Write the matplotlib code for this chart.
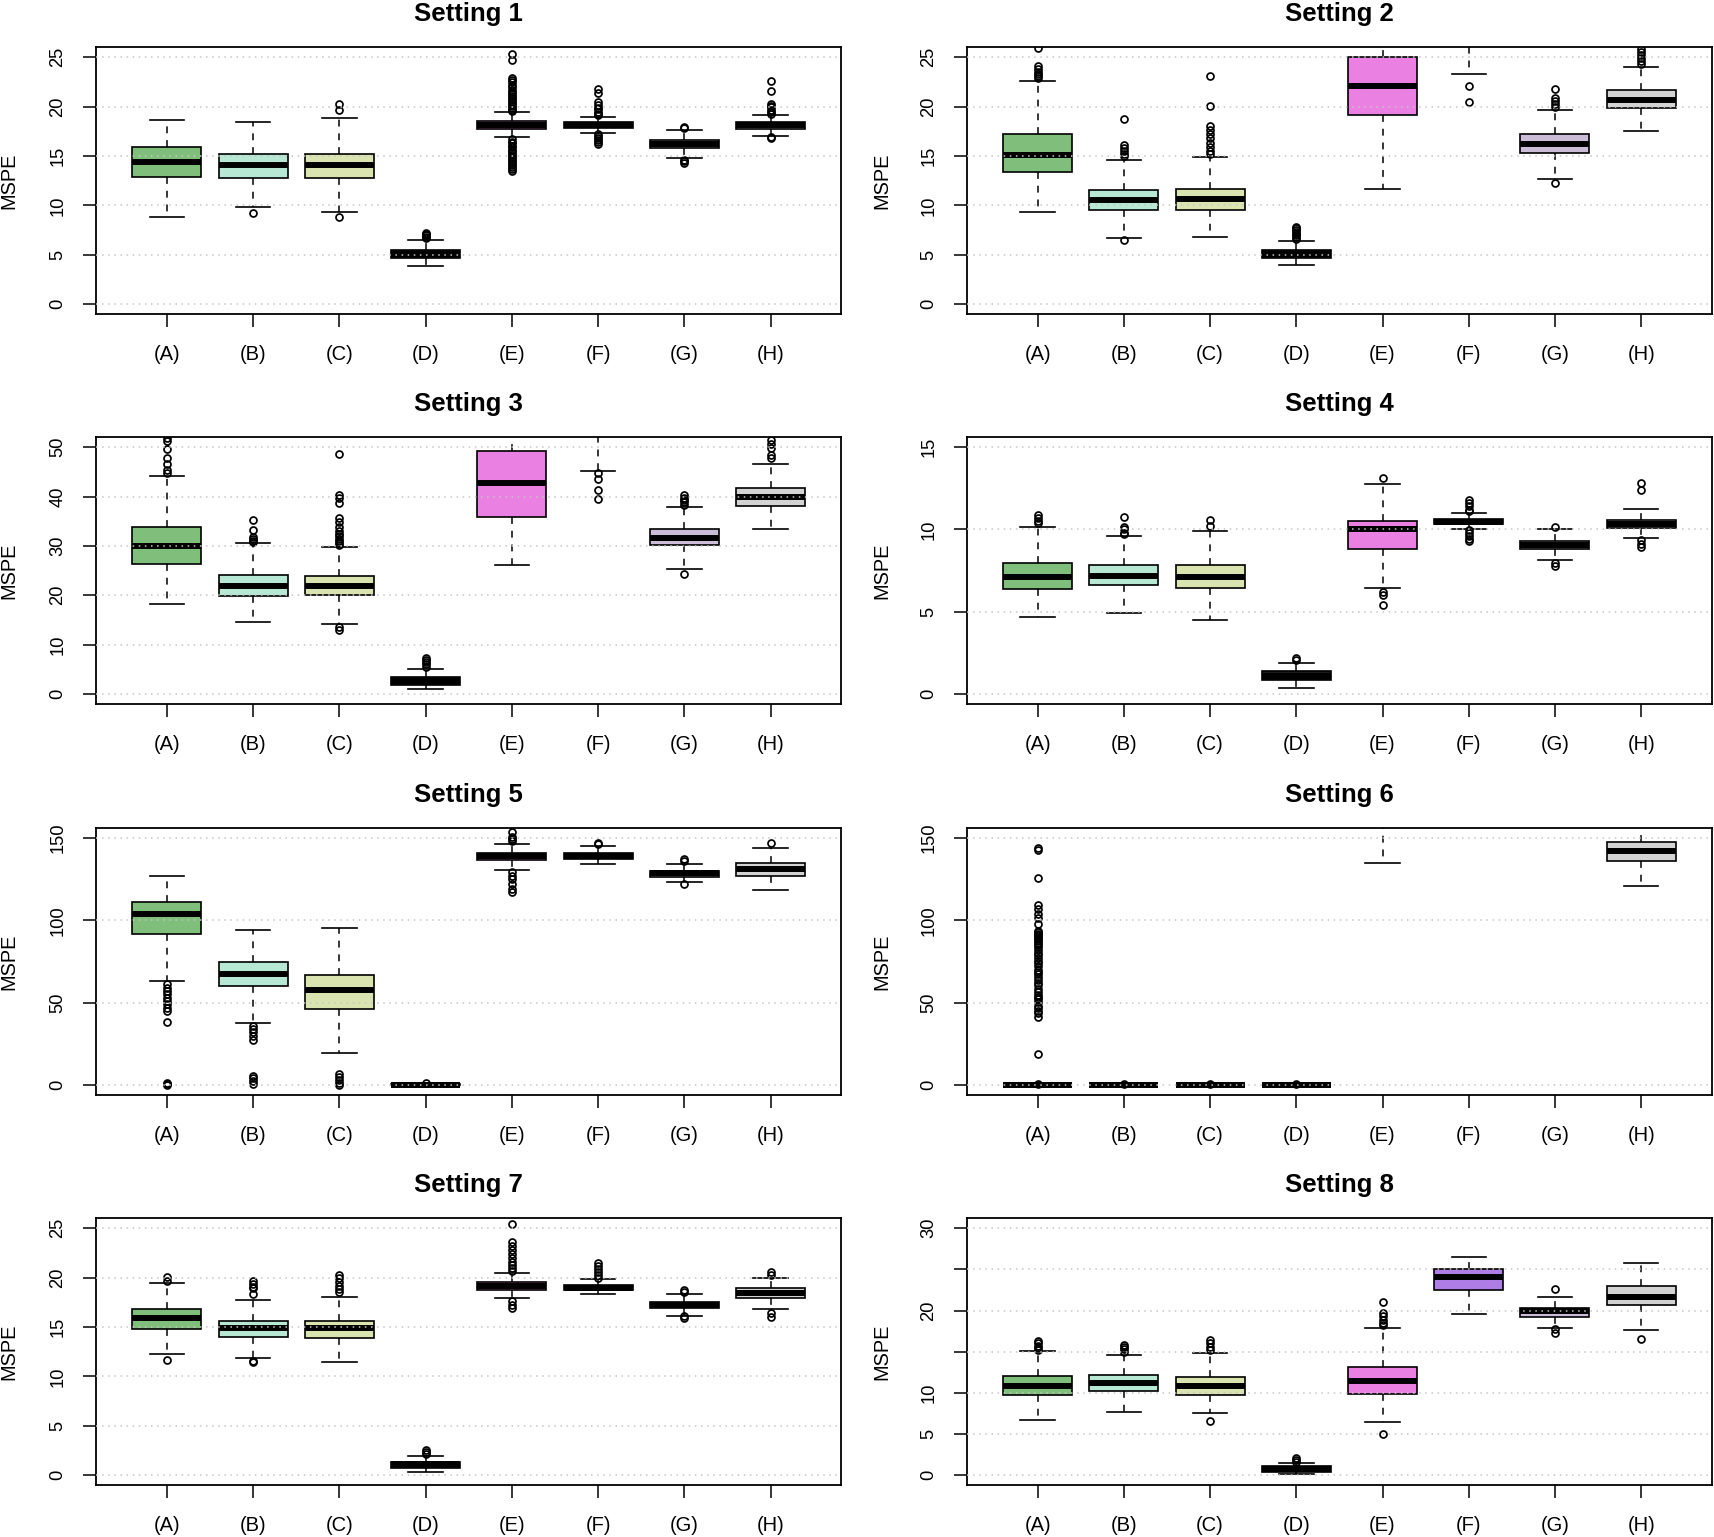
import matplotlib
matplotlib.use("Agg")
import matplotlib.pyplot as plt

plt.rcParams['font.family'] = ['Liberation Sans', 'DejaVu Sans']

# methods (A)-(H) and their box colours
LABELS = ["(A)", "(B)", "(C)", "(D)", "(E)", "(F)", "(G)", "(H)"]
COLORS = ["#7fbf7b", "#b6e8d4", "#d9e4b0", "#1a1a1a",
          "#ea80e2", "#ae7ee6", "#cbbcd8", "#d3d3d3"]

# --- box statistics: lower whisker, Q1, median, Q3, upper whisker, outliers
# Setting 1
S1_LO = [8.8, 9.8, 9.35, 3.86, 16.88, 17.32, 14.78, 17.05]
S1_Q1 = [12.92, 12.82, 12.75, 4.63, 17.76, 17.83, 15.76, 17.76]
S1_MED = [14.38, 14.04, 14.04, 5.04, 18.1, 18.1, 16.2, 18.1]
S1_Q3 = [15.87, 15.19, 15.22, 5.48, 18.5, 18.44, 16.6, 18.47]
S1_HI = [18.67, 18.47, 18.81, 6.53, 19.49, 18.98, 17.63, 19.18]
S1_OUT = [[], [9.2], [20.26, 19.7, 8.8],
          [6.65, 6.8, 6.95, 7.1, 7.2],
          [19.55, 19.7, 19.9, 20.05, 20.3, 20.45, 20.7, 20.9, 21.05, 21.3, 21.5, 21.7,
           21.95, 22.2, 22.45, 22.7, 22.85, 24.7, 25.3,
           16.7, 16.45, 16.3, 16.05, 15.9, 15.65, 15.5, 15.3, 15.05, 14.9, 14.7,
           14.45, 14.3, 14.05, 13.9, 13.7, 13.5],
          [19.1, 19.3, 19.5, 19.75, 19.9, 20.2, 20.45, 21.4, 21.8,
           17.2, 17.0, 16.85, 16.6, 16.4, 16.2],
          [17.8, 17.95, 14.6, 14.45, 14.25],
          [19.3, 19.5, 19.7, 19.95, 20.1, 20.3, 21.6, 22.6, 16.95, 16.8]]

# Setting 2
S2_LO = [9.34, 6.7, 6.83, 3.92, 11.7, 23.3, 12.69, 17.52]
S2_Q1 = [13.33, 9.54, 9.54, 4.7, 19.15, 27.5, 15.29, 19.86]
S2_MED = [15.12, 10.55, 10.66, 5.04, 22.12, 29.5, 16.24, 20.7]
S2_Q3 = [17.22, 11.6, 11.7, 5.48, 25.0, 31.5, 17.19, 21.65]
S2_HI = [22.63, 14.55, 14.85, 6.43, 31.0, 35.0, 19.69, 24.02]
S2_OUT = [[25.9, 24.1, 23.8, 23.5, 23.3, 23.1, 22.9],
          [18.74, 16.1, 15.8, 15.5, 15.2, 15.0, 6.5],
          [23.14, 20.1, 18.0, 17.6, 17.2, 16.8, 16.3, 15.9, 15.5, 15.2],
          [6.55, 6.75, 6.95, 7.15, 7.35, 7.55, 7.7, 7.85],
          [],
          [22.1, 20.47],
          [21.82, 20.9, 20.6, 20.3, 20.0, 12.3],
          [25.8, 25.5, 25.2, 24.9, 24.6, 24.3]]

# Setting 3
S3_LO = [18.29, 14.5, 14.2, 1.08, 26.2, 45.2, 25.34, 33.47]
S3_Q1 = [26.42, 19.78, 19.99, 1.9, 35.9, 55.0, 30.15, 38.14]
S3_MED = [30.0, 21.95, 21.8, 2.57, 42.7, 58.0, 31.7, 39.97]
S3_Q3 = [33.74, 24.12, 23.9, 3.39, 49.3, 61.0, 33.4, 41.67]
S3_HI = [44.24, 30.49, 29.8, 5.08, 60.0, 68.0, 37.94, 46.6]
S3_OUT = [[51.8, 51.2, 49.6, 47.8, 46.5, 45.4, 44.7],
          [35.2, 33.3, 31.8, 31.4, 31.0, 30.7],
          [48.6, 40.3, 39.7, 38.6, 35.6, 34.9, 33.8, 33.0, 32.5, 32.0, 31.5, 31.0,
           30.5, 30.2, 13.5, 13.0],
          [7.4, 6.9, 6.5, 6.0, 5.5],
          [],
          [44.7, 43.5, 41.4, 39.6],
          [40.3, 39.8, 39.3, 38.8, 38.3, 24.25],
          [51.5, 50.7, 49.8, 48.4, 47.8]]

# Setting 4
S4_LO = [4.67, 4.92, 4.53, 0.35, 6.42, 10.02, 8.13, 9.51]
S4_Q1 = [6.4, 6.6, 6.46, 0.85, 8.8, 10.33, 8.8, 10.08]
S4_MED = [7.13, 7.2, 7.11, 1.08, 10.02, 10.47, 9.04, 10.33]
S4_Q3 = [7.97, 7.82, 7.87, 1.38, 10.53, 10.65, 9.31, 10.57]
S4_HI = [10.12, 9.63, 9.9, 1.89, 12.76, 10.98, 10.02, 11.22]
S4_OUT = [[10.87, 10.7, 10.5, 10.37],
          [10.77, 10.16, 10.0, 9.8, 9.7],
          [10.6, 10.2],
          [2.2, 2.1],
          [13.15, 6.2, 6.0, 5.39],
          [11.8, 11.6, 11.4, 11.2, 11.1, 9.95, 9.8, 9.6, 9.45, 9.3],
          [10.16, 7.97, 7.8],
          [12.85, 12.4, 9.35, 9.1, 8.95]]

# Setting 5
S5_LO = [63.3, 37.5, 19.7, 0.0, 130.7, 134.4, 123.2, 118.3]
S5_Q1 = [91.5, 59.9, 46.3, 0.05, 136.6, 137.2, 126.7, 127.3]
S5_MED = [103.7, 67.6, 57.8, 0.25, 139.0, 139.2, 128.7, 131.1]
S5_Q3 = [111.0, 74.5, 66.6, 0.55, 141.0, 140.9, 130.3, 135.0]
S5_HI = [127.3, 94.0, 95.6, 1.0, 146.3, 145.1, 134.6, 144.3]
S5_OUT = [[61.5, 59.2, 57.0, 55.3, 53.1, 51.0, 49.2, 47.1, 45.0, 38.2, 1.1, 0.7, 0.3],
          [36.0, 34.1, 32.2, 30.0, 27.2, 5.6, 4.1, 2.3, 0.6],
          [7.0, 5.2, 3.1, 1.2, 0.2],
          [1.3],
          [153.8, 151.0, 149.2, 148.0, 129.5, 127.1, 125.0, 122.2, 119.3, 117.3],
          [146.5, 147.1],
          [137.6, 136.2, 122.4],
          [146.9]]

# Setting 6 (E, F and G sit above the plotted range)
S6_LO = [0.0, 0.0, 0.0, 0.0, 135.0, 170.0, 165.0, 121.0]
S6_Q1 = [0.05, 0.05, 0.05, 0.05, 160.0, 180.0, 175.0, 136.2]
S6_MED = [0.15, 0.15, 0.15, 0.15, 168.0, 186.0, 181.0, 142.3]
S6_Q3 = [0.3, 0.3, 0.3, 0.3, 176.0, 192.0, 187.0, 147.8]
S6_HI = [0.6, 0.6, 0.6, 0.6, 195.0, 205.0, 198.0, 160.0]
S6_OUT = [[18.9, 41.2, 43.5, 45.1, 47.0, 48.3, 50.2, 52.1, 53.4, 55.0, 56.8, 58.2,
           60.5, 62.3, 63.9, 65.4, 67.2, 68.8, 70.1, 72.6, 74.0, 75.3, 77.5, 79.1,
           80.4, 82.2, 83.6, 85.0, 86.3, 87.5, 88.6, 89.4, 90.3, 91.2, 92.0, 92.8,
           93.5, 98.0, 101.2, 104.1, 106.8, 109.2, 125.6, 143.1, 143.8, 0.9],
          [0.9], [0.9], [0.9], [], [], [], []]

# Setting 7
S7_LO = [12.31, 11.84, 11.5, 0.31, 17.98, 18.32, 16.08, 16.82]
S7_Q1 = [14.82, 14.01, 13.87, 0.75, 18.76, 18.72, 16.89, 17.98]
S7_MED = [15.94, 14.93, 14.86, 1.09, 19.17, 19.0, 17.23, 18.49]
S7_Q3 = [16.79, 15.64, 15.6, 1.36, 19.54, 19.3, 17.57, 18.93]
S7_HI = [19.44, 17.74, 18.08, 1.9, 20.49, 19.84, 18.35, 20.01]
S7_OUT = [[20.1, 19.7, 11.63],
          [19.7, 19.4, 19.1, 19.0, 18.3, 11.6, 11.45],
          [20.3, 20.0, 19.6, 19.2, 18.8, 18.5],
          [2.5, 2.3, 2.1],
          [25.4, 23.6, 23.2, 22.8, 22.4, 22.0, 21.6, 21.3, 21.0, 20.7,
           17.6, 17.2, 16.9],
          [21.5, 21.2, 20.9, 20.6, 20.3, 20.0],
          [18.7, 18.5, 16.1, 15.9],
          [20.6, 20.3, 16.4, 16.0]]

# Setting 8
S8_LO = [6.71, 7.64, 7.6, 0.16, 6.5, 19.63, 17.85, 17.6]
S8_Q1 = [9.8, 10.2, 9.8, 0.41, 9.92, 22.48, 19.19, 20.73]
S8_MED = [10.85, 11.14, 10.81, 0.73, 11.46, 24.07, 19.92, 21.7]
S8_Q3 = [11.99, 12.15, 11.91, 1.06, 13.13, 25.04, 20.28, 23.0]
S8_HI = [15.08, 14.63, 14.88, 1.46, 17.85, 26.46, 21.7, 25.8]
S8_OUT = [[16.3, 16.0, 15.7, 15.4, 15.2],
          [15.85, 15.6, 15.3, 15.0],
          [16.4, 16.0, 15.6, 15.2, 6.6],
          [2.1, 1.8, 1.6],
          [21.06, 19.7, 19.3, 18.9, 18.5, 18.2, 5.0],
          [],
          [22.56, 17.7, 17.3],
          [16.59]]

# axis ranges and tick labels per setting
YMAX = [25, 25, 50, 15, 150, 150, 25, 30]
YTICKS = [[0, 5, 10, 15, 20, 25], [0, 5, 10, 15, 20, 25],
          [0, 10, 20, 30, 40, 50], [0, 5, 10, 15],
          [0, 50, 100, 150], [0, 50, 100, 150],
          [0, 5, 10, 15, 20, 25], [0, 5, 10, 15, 20, 25, 30]]
YTICKLABELS = [["0", "5", "10", "15", "20", "25"], ["0", "5", "10", "15", "20", "25"],
               ["0", "10", "20", "30", "40", "50"], ["0", "5", "10", "15"],
               ["0", "50", "100", "150"], ["0", "50", "100", "150"],
               ["0", "5", "10", "15", "20", "25"], ["0", "5", "10", "", "20", "", "30"]]

SETTINGS = [
    (S1_LO, S1_Q1, S1_MED, S1_Q3, S1_HI, S1_OUT),
    (S2_LO, S2_Q1, S2_MED, S2_Q3, S2_HI, S2_OUT),
    (S3_LO, S3_Q1, S3_MED, S3_Q3, S3_HI, S3_OUT),
    (S4_LO, S4_Q1, S4_MED, S4_Q3, S4_HI, S4_OUT),
    (S5_LO, S5_Q1, S5_MED, S5_Q3, S5_HI, S5_OUT),
    (S6_LO, S6_Q1, S6_MED, S6_Q3, S6_HI, S6_OUT),
    (S7_LO, S7_Q1, S7_MED, S7_Q3, S7_HI, S7_OUT),
    (S8_LO, S8_Q1, S8_MED, S8_Q3, S8_HI, S8_OUT),
]

fig = plt.figure(figsize=(17.15, 15.37), dpi=100)

lefts = [0.0561, 0.5638]
widths = [0.4344, 0.4344]
bottoms = [0.7957, 0.5420, 0.2876, 0.0338]
height = 0.1735
label_x = [-0.104, -0.101]

for k, (lo, q1, med, q3, hi, out) in enumerate(SETTINGS):
    row, col = divmod(k, 2)
    ax = fig.add_axes([lefts[col], bottoms[row], widths[col], height])

    stats = []
    for i in range(len(LABELS)):
        stats.append(dict(whislo=lo[i], q1=q1[i], med=med[i], q3=q3[i],
                          whishi=hi[i], fliers=out[i]))

    bp = ax.bxp(stats, positions=range(1, len(LABELS) + 1), widths=0.8,
                capwidths=0.4, patch_artist=True, showfliers=True,
                boxprops=dict(edgecolor="black", linewidth=1.2),
                whiskerprops=dict(color="black", linewidth=1.1, linestyle=(0, (4.5, 4.5))),
                capprops=dict(color="black", linewidth=1.2),
                medianprops=dict(color="black", linewidth=4.3, solid_capstyle="butt"),
                flierprops=dict(marker="o", markerfacecolor="none",
                                markeredgecolor="black", markersize=5,
                                markeredgewidth=1.25))
    for patch, c in zip(bp["boxes"], COLORS):
        patch.set_facecolor(c)

    # dotted reference lines drawn on top of the boxes
    for t in YTICKS[k]:
        ax.axhline(t, color="#c6c6c6", linewidth=1.1, linestyle=(0, (1, 3)), zorder=5)

    ext = 0.04 * YMAX[k]
    ax.set_xlim(0.18, 8.82)
    ax.set_ylim(-ext, YMAX[k] + ext)

    ax.set_xticks(range(1, len(LABELS) + 1), LABELS, fontsize=14.5)
    ax.set_yticks(YTICKS[k], YTICKLABELS[k], fontsize=13.2, rotation=90, va="center")
    ax.tick_params(axis="both", direction="out", length=9.4, width=1.1)
    ax.tick_params(axis="x", pad=13)
    ax.tick_params(axis="y", pad=12)

    for sp in ax.spines.values():
        sp.set_linewidth(1.3)

    ax.set_title(f"Setting {k + 1}", fontsize=18.5, fontweight="bold", pad=19)
    ax.set_ylabel("MSPE", fontsize=14.4)
    ax.yaxis.set_label_coords(label_x[col], 0.5)

fig.savefig("out.png", dpi=100)
